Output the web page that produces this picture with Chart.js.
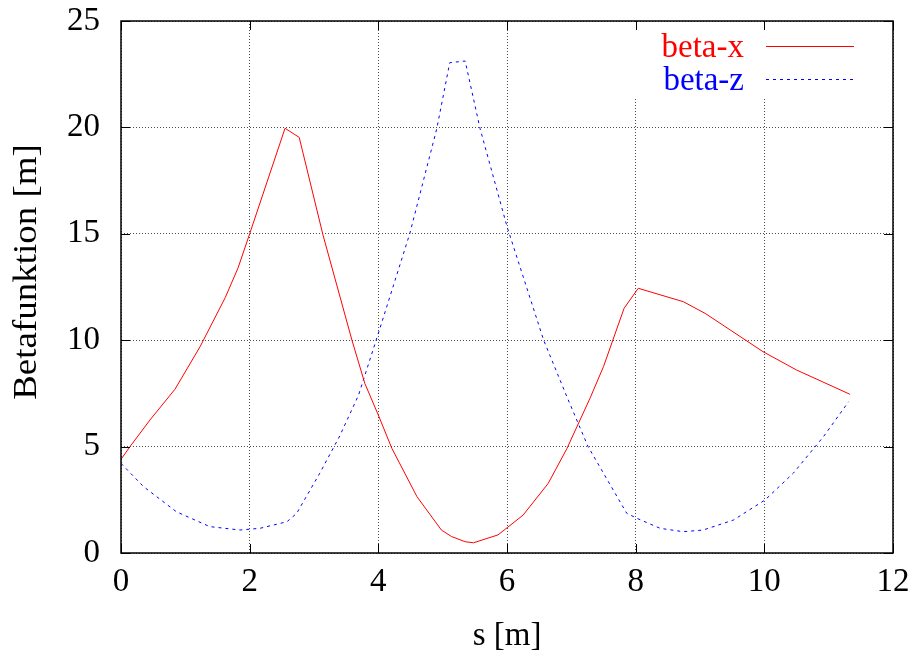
<!DOCTYPE html>
<html>
<head>
<meta charset="utf-8">
<script src="https://cdn.jsdelivr.net/npm/chart.js@4.4.1/dist/chart.umd.min.js"></script>
<style>
html,body{margin:0;padding:0;background:#fff;}
#wrap{width:913px;height:656px;position:relative;}
</style>
</head>
<body>
<div id="wrap"><canvas id="c" width="913" height="656"></canvas></div>
<script>
// Data
const sX = [0, 0.14, 0.45, 0.84, 1.23, 1.62, 1.82, 2.0, 2.55, 2.77, 3.14, 3.59, 3.79, 4.0, 4.21, 4.60, 4.98, 5.14, 5.35, 5.48, 5.86, 6.25, 6.64, 6.93, 7.29, 7.50, 7.82, 8.04, 8.74, 9.08, 9.47, 9.98, 10.50, 11.33];
const betaX = [4.40, 5.0, 6.25, 7.7, 9.7, 12.0, 13.4, 15.0, 19.96, 19.53, 14.94, 10.0, 7.97, 6.48, 4.92, 2.65, 1.08, 0.77, 0.53, 0.48, 0.85, 1.78, 3.27, 4.9, 7.27, 8.76, 11.5, 12.44, 11.81, 11.26, 10.48, 9.46, 8.6, 7.46];
const sZ = [0, 0.35, 0.86, 1.38, 1.85, 2.16, 2.58, 2.73, 3.09, 3.40, 3.69, 4.0, 4.49, 4.91, 5.11, 5.35, 5.58, 6.0, 6.57, 6.93, 7.26, 7.86, 8.02, 8.38, 8.74, 9.05, 9.52, 10.01, 10.45, 10.92, 11.31];
const betaZ = [4.21, 3.12, 1.94, 1.24, 1.08, 1.16, 1.47, 1.86, 3.75, 5.5, 7.4, 10.32, 15.02, 19.96, 23.04, 23.12, 19.96, 15.34, 10.0, 7.35, 5.0, 1.87, 1.63, 1.16, 1.0, 1.08, 1.55, 2.49, 3.75, 5.47, 7.11];
const xTicks = [0, 2, 4, 6, 8, 10, 12];
const yTicks = [0, 5, 10, 15, 20, 25];
const seriesLabels = ["beta-x", "beta-z"];
const xTitle = "s [m]";
const yTitle = "Betafunktion [m]";

const FONT = "'Liberation Serif', 'Times New Roman', serif";
const FS = 33;

const pts = (xs, ys) => xs.map((x, i) => ({x: x, y: ys[i]}));

const framePlugin = {
  id: 'frame',
  afterDatasetsDraw(chart) {
    const ctx = chart.ctx;
    const a = chart.chartArea;
    const xs = chart.scales.x, ys = chart.scales.y;
    ctx.save();
    // opaque key box
    ctx.fillStyle = '#fff';
    ctx.fillRect(626, a.top + 1, 260, 75);
    // key entries
    ctx.font = FS + 'px ' + FONT;
    ctx.textAlign = 'right';
    ctx.textBaseline = 'middle';
    chart.data.datasets.forEach((ds, i) => {
      const yy = a.top + 26 + i * 33;
      ctx.fillStyle = ds.borderColor;
      ctx.fillText(ds.label, 744, yy + 1);
      ctx.strokeStyle = ds.borderColor;
      ctx.lineWidth = 1;
      ctx.setLineDash(ds.borderDash || []);
      ctx.beginPath();
      ctx.moveTo(766, yy - 0.5);
      ctx.lineTo(854, yy - 0.5);
      ctx.stroke();
    });
    ctx.setLineDash([]);
    // border
    ctx.strokeStyle = '#000';
    ctx.lineWidth = 1.5;
    ctx.strokeRect(a.left, a.top, a.right - a.left, a.bottom - a.top);
    // inward ticks, mirrored
    ctx.lineWidth = 1;
    const TL = 9;
    ctx.beginPath();
    xTicks.forEach(v => {
      const px = Math.round(xs.getPixelForValue(v)) + 0.5;
      ctx.moveTo(px, a.bottom); ctx.lineTo(px, a.bottom - TL);
      ctx.moveTo(px, a.top); ctx.lineTo(px, a.top + TL);
    });
    yTicks.forEach(v => {
      const py = Math.round(ys.getPixelForValue(v)) + 0.5;
      ctx.moveTo(a.left, py); ctx.lineTo(a.left + TL, py);
      ctx.moveTo(a.right, py); ctx.lineTo(a.right - TL, py);
    });
    ctx.stroke();
    // y axis title
    ctx.fillStyle = '#000';
    ctx.font = FS + 'px ' + FONT;
    ctx.textAlign = 'center';
    ctx.textBaseline = 'middle';
    ctx.translate(27, 272);
    ctx.rotate(-Math.PI / 2);
    ctx.scale(1.12, 1);
    ctx.fillText(yTitle, 0, 0);
    ctx.restore();
  }
};

new Chart(document.getElementById('c'), {
  type: 'line',
  data: {
    datasets: [
      {label: seriesLabels[0], data: pts(sX, betaX), borderColor: '#ff0000', borderWidth: 1, pointRadius: 0, tension: 0, fill: false},
      {label: seriesLabels[1], data: pts(sZ, betaZ), borderColor: '#0000ff', borderWidth: 1, borderDash: [3, 4], pointRadius: 0, tension: 0, fill: false}
    ]
  },
  options: {
    responsive: false,
    animation: false,
    events: [],
    layout: {autoPadding: false, padding: {top: 21, right: 20, left: 0, bottom: 0}},
    plugins: {legend: {display: false}, tooltip: {enabled: false}},
    scales: {
      x: {
        type: 'linear', min: 0, max: 12,
        afterBuildTicks: (s) => { s.ticks = xTicks.map(v => ({value: v})); },
        afterFit: (s) => { s.height = 103; s.paddingLeft = 0; s.paddingRight = 0; },
        border: {display: false, dash: [1, 2]},
        grid: {color: 'rgba(0,0,0,0.7)', lineWidth: 1, drawTicks: false},
        ticks: {color: '#000', padding: 10, maxRotation: 0, font: {family: FONT, size: FS}},
        title: {display: true, text: xTitle, color: '#000', font: {family: FONT, size: FS}, padding: {top: 3, bottom: 0}}
      },
      y: {
        type: 'linear', min: 0, max: 25,
        afterBuildTicks: (s) => { s.ticks = yTicks.map(v => ({value: v})); },
        afterFit: (s) => { s.width = 121; s.paddingTop = 0; s.paddingBottom = 0; },
        border: {display: false, dash: [1, 2]},
        grid: {color: 'rgba(0,0,0,0.7)', lineWidth: 1, drawTicks: false},
        ticks: {color: '#000', padding: 21, font: {family: FONT, size: FS}}
      }
    }
  },
  plugins: [framePlugin]
});
</script>
</body>
</html>
